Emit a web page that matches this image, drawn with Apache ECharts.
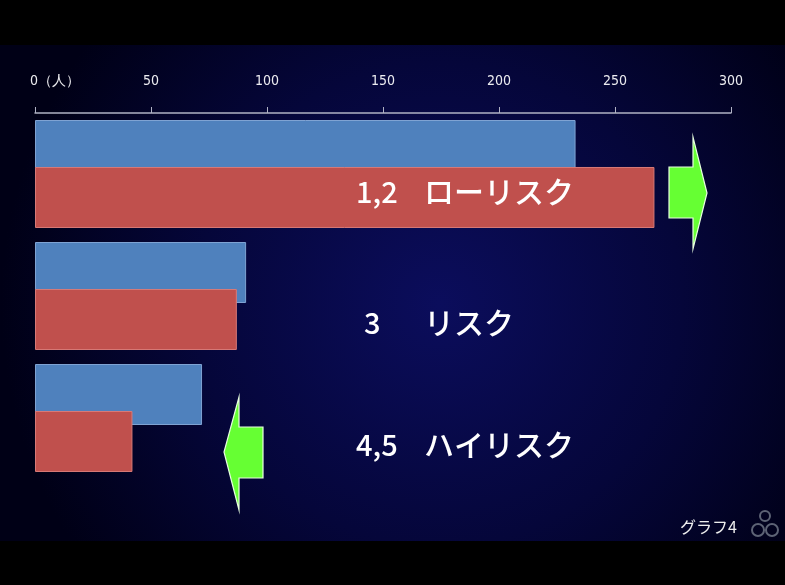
<!DOCTYPE html>
<html><head><meta charset="utf-8">
<script src="https://cdn.jsdelivr.net/npm/echarts@6/dist/echarts.min.js"></script>
<style>html,body{margin:0;padding:0;background:#000;}#c{width:785px;height:585px;}</style>
</head><body><div id="c"></div>
<script>
const categories = ['1,2 ローリスク', '3 リスク', '4,5 ハイリスク'];
const numLabels = ['1,2', '3', '4,5'];
const kanaLabels = ['ローリスク', 'リスク', 'ハイリスク'];
const seriesBlue = [233, 91, 72];
const seriesRed = [267, 87, 42];
const tickMin = 0, tickMax = 300, tickStep = 50;
const textOffsets = [18, 27, 27];

const chart = echarts.init(document.getElementById('c'), null, {renderer: 'canvas'});
const bgGraphics = [
  {type: 'rect', z: -10, silent: true, shape: {x: 0, y: 0, width: 785, height: 585},
   style: {fill: new echarts.graphic.RadialGradient(0.56, 0.52, 0.75, [
     {offset: 0, color: '#0b0d5c'}, {offset: 0.55, color: '#05063a'}, {offset: 1, color: '#000016'}])}},
  {type: 'rect', z: -9, silent: true, shape: {x: 0, y: 0, width: 785, height: 45}, style: {fill: '#000'}},
  {type: 'rect', z: -9, silent: true, shape: {x: 0, y: 541, width: 785, height: 44}, style: {fill: '#000'}}
];
const option = {
  animation: false,
  grid: {left: 35, right: 54, top: 113, height: 366},
  xAxis: {
    type: 'value', position: 'top', min: tickMin, max: tickMax, interval: tickStep,
    splitLine: {show: false},
    axisLine: {show: true, lineStyle: {color: '#b0b2c4', width: 1.5}},
    axisTick: {show: true, length: 6, lineStyle: {color: '#b0b2c4'}},
    axisLabel: {color: '#ececf0', fontSize: 14, margin: 25, fontFamily: 'DejaVu Sans Condensed, sans-serif',
      alignMinLabel: 'left',
      formatter: v => v === 0 ? '{z|0（人）}' : String(v),
      rich: {z: {fontSize: 14, color: '#ececf0', fontFamily: 'DejaVu Sans Condensed, sans-serif', padding: [0, 0, 0, -5]}}}
  },
  yAxis: {type: 'category', data: categories, inverse: true, show: false},
  series: [
    {type: 'bar', data: seriesBlue, barWidth: 61, barGap: '-23%',
     itemStyle: {color: '#4f81bd', borderColor: '#7fa3d3', borderWidth: 1}},
    {type: 'bar', data: seriesRed, barWidth: 61, barGap: '-23%',
     itemStyle: {color: '#c0504d', borderColor: '#d87a77', borderWidth: 1}}
  ],
  graphic: bgGraphics
};
chart.setOption(option);

const texts = [];
categories.forEach((c, i) => {
  const y = chart.convertToPixel({yAxisIndex: 0}, i) + textOffsets[i];
  texts.push({type: 'text', z: 10, x: numLabels[i] === '3' ? 364 : 356, y: y,
    style: {text: numLabels[i], fill: '#ffffff', fontSize: 29, fontWeight: 500, fontFamily: 'Noto Sans CJK JP', verticalAlign: 'middle', textAlign: 'left'}});
  texts.push({type: 'text', z: 10, x: 424, y: y,
    style: {text: kanaLabels[i], fill: '#ffffff', fontSize: 30, fontWeight: 500, fontFamily: 'Noto Sans CJK JP', verticalAlign: 'middle', textAlign: 'left'}});
});
const arrows = [
  {type: 'polygon', z: 10, shape: {points: [[669,167],[693,167],[693,137],[707,193],[693,249],[693,218],[669,218]]},
   style: {fill: '#66ff33', stroke: '#e8ffe0', lineWidth: 1.2}},
  {type: 'polygon', z: 10, shape: {points: [[263,427],[239,427],[239,397],[224,452],[239,510],[239,478],[263,478]]},
   style: {fill: '#66ff33', stroke: '#e8ffe0', lineWidth: 1.2}}
];
const footer = [
  {type: 'text', z: 10, x: 680, y: 527,
   style: {text: 'グラフ4', fill: '#eeeeee', fontSize: 16, fontFamily: 'Noto Sans CJK JP', verticalAlign: 'middle'}},
  {type: 'circle', z: 10, shape: {cx: 758, cy: 530, r: 6}, style: {fill: 'none', stroke: '#5d6375', lineWidth: 2}},
  {type: 'circle', z: 10, shape: {cx: 772, cy: 530, r: 6}, style: {fill: 'none', stroke: '#5d6375', lineWidth: 2}},
  {type: 'circle', z: 10, shape: {cx: 765, cy: 516, r: 5}, style: {fill: 'none', stroke: '#5d6375', lineWidth: 2}}
];
chart.setOption({graphic: bgGraphics.concat(texts, arrows, footer)}, {replaceMerge: ['graphic']});
</script></body></html>
